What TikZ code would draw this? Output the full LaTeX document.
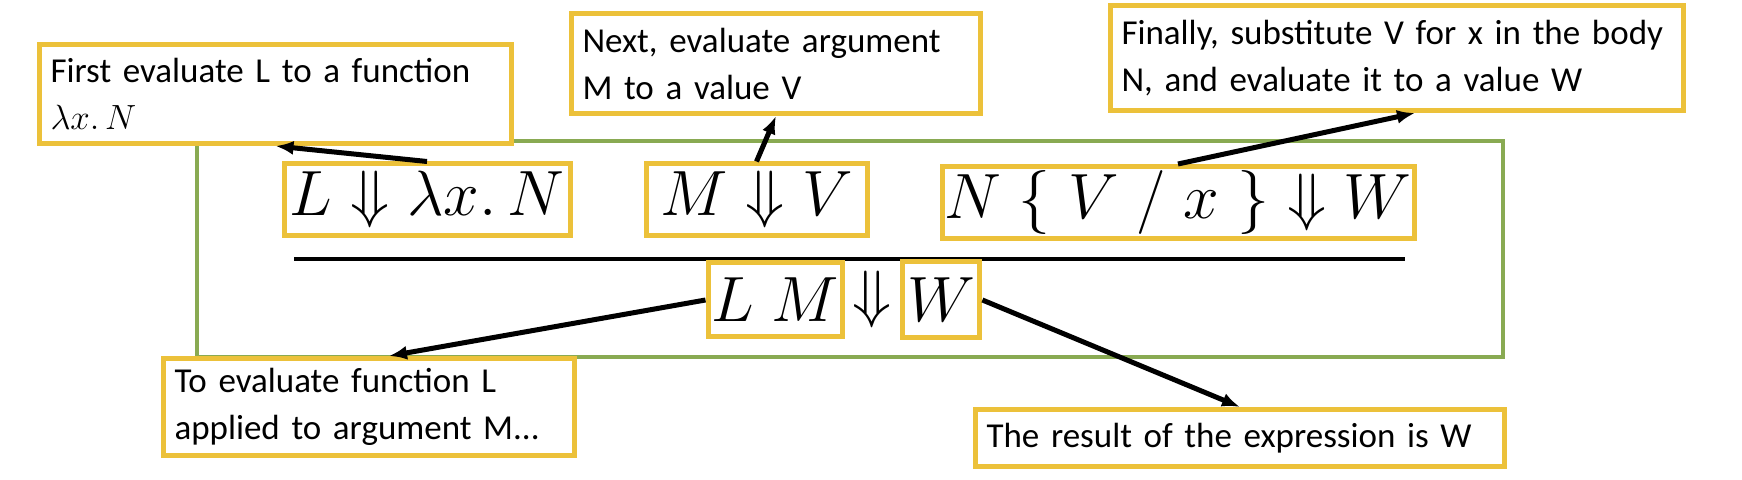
\RequirePackage{fix-cm}
\documentclass[tikz,border=0pt]{standalone}
\usepackage{fontspec}
\setmainfont{Carlito}
\usepackage{xcolor}
\usepackage{tikz}
\usetikzlibrary{arrows.meta,positioning}
\definecolor{boxyellow}{RGB}{236,193,58}
\definecolor{framegreen}{RGB}{137,170,82}
\newcommand{\judgfont}{\fontsize{32}{36}\selectfont}
\tikzset{
  base/.style={align=left, font=\fontsize{17.5}{23.5}\selectfont, text=black},
  note/.style={base, rectangle, draw=boxyellow, fill=white, line width=2.5pt, inner xsep=5.5pt, anchor=north west},
  judg/.style={rectangle, draw=boxyellow, fill=white, line width=2.5pt, font=\judgfont, inner sep=0pt, minimum height=36pt},
  line/.style={-{Latex[length=9pt,width=7pt]}, line width=2.5pt, draw=black},
  frame/.style={draw=framegreen, line width=2pt},
  rulebar/.style={draw=black, line width=2.2pt}
}

\begin{document}
\begin{tikzpicture}[x=0.5pt,y=-0.5pt]
  \useasboundingbox[fill=white] (0,0) rectangle (1742,480);

  % Frame and inference bar
  \draw[frame] (197,141) rectangle (1503,357);
  \coordinate (barl) at (294,259);
  \coordinate (barr) at (1405,259);
  \draw[rulebar] (barl) -- (barr);

  % Premises
  \node[judg, minimum width=143pt] (fundrv) at (427,200) {$L \Downarrow \lambda x.\,N$};
  \node[judg, minimum width=110.5pt] (argdrv) at (756.5,200) {$M \Downarrow V$};
  \node[judg, minimum width=236pt] (bodydrv) at (1178,202.5) {$N\;\{\;V\;/\;x\;\}\Downarrow W$};

  % Conclusion
  \node[judg, minimum width=67pt, minimum height=37pt] (app) at (775,300) {$L\;M$};
  \node[font=\judgfont, inner sep=0pt, right=4pt of app] (conclarr) {$\Downarrow$};
  \node[judg, minimum width=38.5pt, minimum height=38pt, right=4pt of conclarr] (res) {$W$};

  % Notes
  \node[note, text width=225pt, minimum height=49.5pt] (evalfun) at (37,42) {First evaluate L to a function\\$\lambda x.\,N$};
  \node[note, text width=193.5pt, minimum height=50pt] (evalarg) at (569,11) {Next, evaluate argument\\M to a value V};
  \node[note, text width=275.5pt, minimum height=52.5pt] (evalbody) at (1108,3) {Finally, substitute V for x in the body\\N, and evaluate it to a value W};
  \node[note, text width=194.5pt, minimum height=48.5pt] (evalapp) at (161,356) {To evaluate function L\\applied to argument M...};
  \node[note, text width=253.5pt, minimum height=28.5pt] (result) at (973,407) {The result of the expression is W};

  % Arrows
  \draw[line] (fundrv.north) -- (evalfun.south);
  \draw[line] (argdrv.north) -- (evalarg.south);
  \draw[line] (bodydrv.north) -- ([xshift=9pt]evalbody.south);
  \draw[line] (app.west) -- ([xshift=10pt]evalapp.north);
  \draw[line] (res.east) -- (result.north);
\end{tikzpicture}
\end{document}
